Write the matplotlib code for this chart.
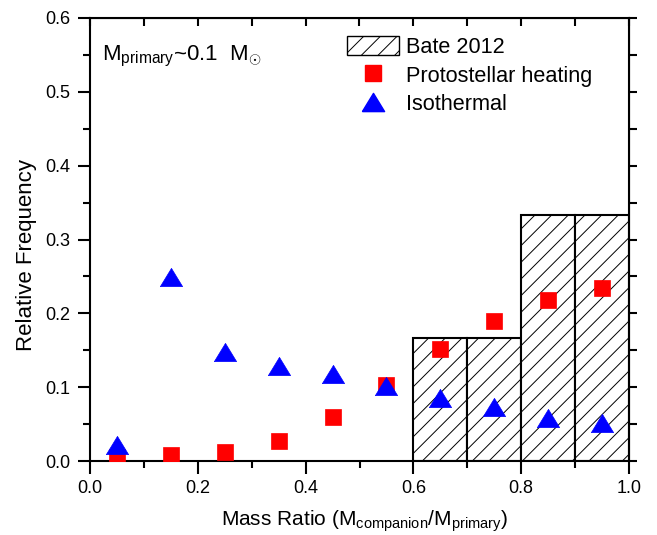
import numpy as np
import matplotlib
matplotlib.use("Agg")
import matplotlib.pyplot as plt
from matplotlib.patches import Patch
from matplotlib.lines import Line2D
from matplotlib.ticker import FormatStrFormatter

plt.rcParams["font.family"] = ["Liberation Sans", "DejaVu Sans"]
plt.rcParams["mathtext.fontset"] = "custom"
plt.rcParams["mathtext.rm"] = "Liberation Sans"
plt.rcParams["mathtext.it"] = "Liberation Sans:italic"
plt.rcParams["hatch.linewidth"] = 0.7

# Bate 2012 histogram (bin edges and heights)
bate_left = [0.6, 0.7, 0.8, 0.9]
bate_freq = [1 / 6, 1 / 6, 1 / 3, 1 / 3]

# simulation results at bin centres
q_centres = [0.05, 0.15, 0.25, 0.35, 0.45, 0.55, 0.65, 0.75, 0.85, 0.95]
heating = [0.005, 0.0075, 0.0125, 0.027, 0.060, 0.1025, 0.152, 0.190, 0.218, 0.234]
isothermal = [0.022, 0.249, 0.147, 0.128, 0.118, 0.102, 0.086, 0.0736, 0.0585, 0.0517]

fig = plt.figure(figsize=(6.57, 5.35), dpi=100)
ax = fig.add_axes([90 / 657, 74 / 535, 539 / 657, 443 / 535])

ax.bar(bate_left, bate_freq, width=0.1, align="edge", facecolor="white",
       edgecolor="black", linewidth=1.5, hatch="//", zorder=1)

# squat triangle like Origin's up-triangle symbol
tri = [(-1, -0.82), (1, -0.82), (0, 0.82), (-1, -0.82)]
ax.plot(q_centres, heating, ls="none", marker="s", ms=12, color="#ff0000",
        mec="#ff0000", mew=0.5, zorder=3)
ax.plot(q_centres, isothermal, ls="none", marker=tri, ms=16, color="#0000ff",
        mec="#0000ff", mew=0.5, zorder=4)

ax.set_xlim(0, 1.0)
ax.set_ylim(0, 0.6)
ax.set_xticks(np.arange(0, 1.01, 0.2))
ax.set_xticks(np.arange(0.1, 1.0, 0.2), minor=True)
ax.set_yticks(np.arange(0, 0.61, 0.1))
ax.set_yticks(np.arange(0.05, 0.6, 0.1), minor=True)
ax.xaxis.set_major_formatter(FormatStrFormatter("%.1f"))
ax.yaxis.set_major_formatter(FormatStrFormatter("%.1f"))
ax.tick_params(which="major", direction="out", length=9, width=1.5,
               labelsize=13, pad=5)
ax.tick_params(which="minor", direction="out", length=5, width=1.5)
for s in ax.spines.values():
    s.set_linewidth(1.5)

# mirrored ticks on top (inward) and right (outward), no labels
top = ax.secondary_xaxis("top")
top.set_xticks(np.arange(0, 1.01, 0.1))
top.tick_params(direction="in", length=6, width=1.5, labeltop=False)
right = ax.secondary_yaxis("right")
right.set_yticks(np.arange(0, 0.61, 0.05))
right.tick_params(direction="out", length=6, width=1.5, labelright=False)

ax.set_xlabel(r"Mass Ratio (M$_{\rm companion}$/M$_{\rm primary}$)",
              fontsize=15, labelpad=8, x=0.51)
ax.set_ylabel("Relative Frequency", fontsize=16, labelpad=6, y=0.464)

ax.text(0.022, 0.905, r"M$_{\rm primary}$~0.1  M$_{\odot}$", transform=ax.transAxes,
        fontsize=16, va="baseline", ha="left")

handles = [
    Patch(facecolor="white", edgecolor="black", hatch="//", linewidth=1.0),
    Line2D([], [], ls="none", marker="s", ms=12, color="#ff0000"),
    Line2D([], [], ls="none", marker=tri, ms=16, color="#0000ff"),
]
labels = ["Bate 2012", "Protostellar heating", "Isothermal"]
ax.legend(handles, labels, loc="upper left", bbox_to_anchor=(0.476, 0.959),
          frameon=False, fontsize=15.6, borderpad=0, borderaxespad=0,
          handlelength=2.4, handleheight=0.95, handletextpad=0.34,
          labelspacing=0.32)

fig.savefig("out.png", dpi=100)
plt.close(fig)
